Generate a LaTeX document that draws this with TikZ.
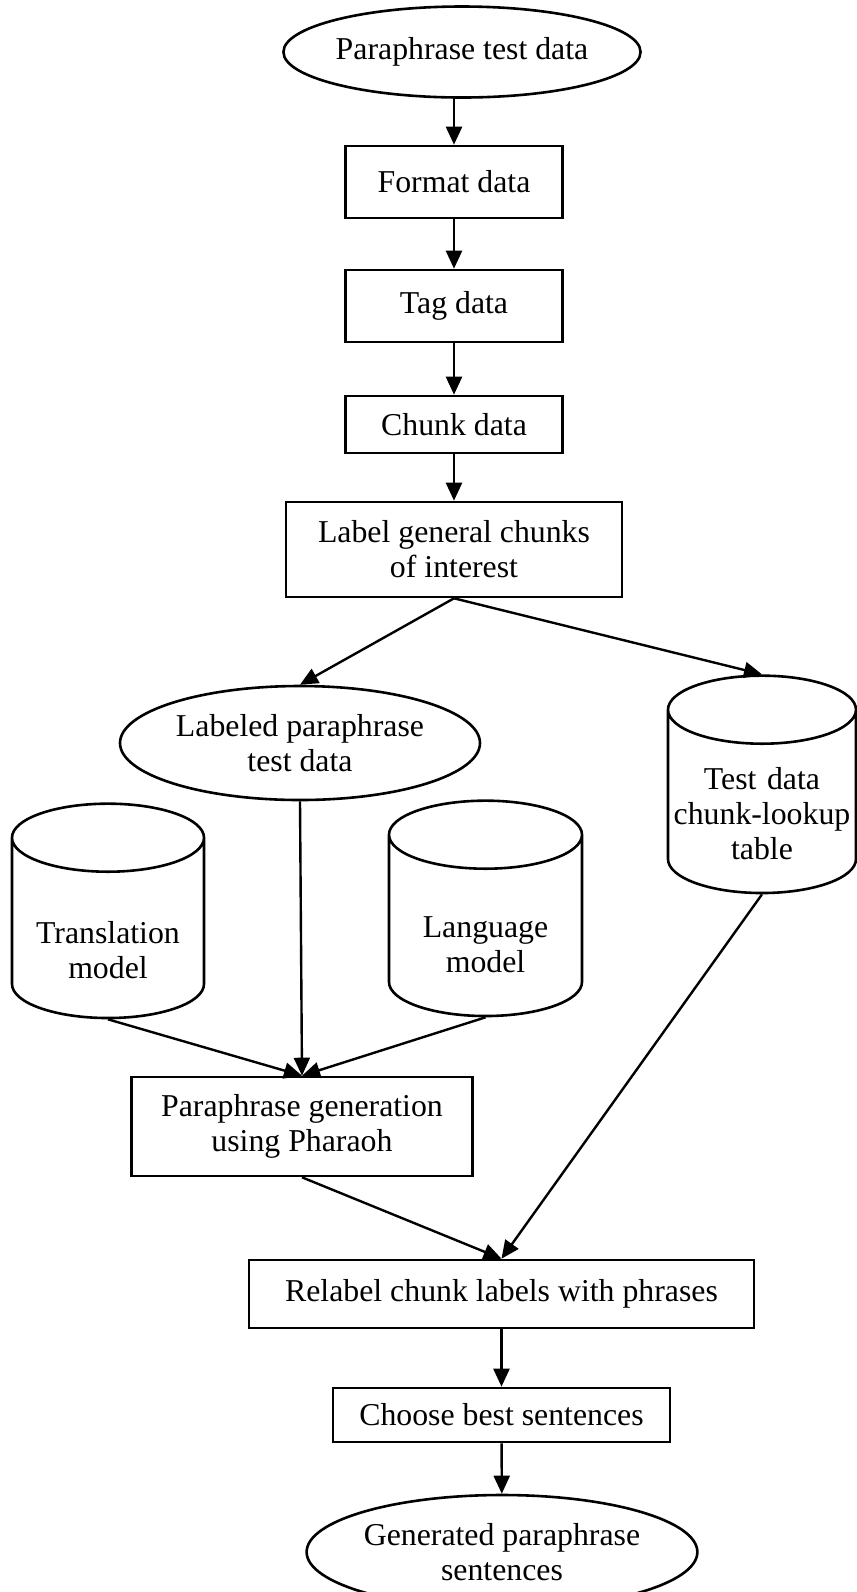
\documentclass[tikz,border=0pt]{standalone}
\usepackage{fontspec}
\setmainfont{Liberation Serif}
\usetikzlibrary{arrows.meta, shapes.geometric}

\tikzset{
  base/.style={draw, line width=1.3pt, align=center, inner sep=0pt,
               font=\fontsize{15.9}{17.5}\selectfont},
  procbox/.style={base, rectangle},
  datafile/.style={base, ellipse},
  store/.style={base, cylinder, shape border rotate=90, aspect=0.378,
                text width=90pt, minimum width=95pt},
  flow/.style={-{Triangle[length=9pt,width=8pt]}, line width=1.2pt},
}

\begin{document}
\begin{tikzpicture}[x=0.5pt, y=-0.5pt]
  \useasboundingbox (0,0) rectangle (857,1592);

  %--- main chain ---
  \node[datafile, minimum width=171pt, minimum height=45.5pt] (src) at (462,52)
    {Paraphrase test data};
  \node[procbox, minimum width=108.5pt, minimum height=36pt] (fmt) at (454,182)
    {Format data};
  \node[procbox, minimum width=108.5pt, minimum height=36pt] (tag) at (454,306)
    {Tag data};
  \node[procbox, minimum width=108.5pt, minimum height=28.5pt] (chk) at (454,424.5)
    {Chunk data};
  \node[procbox, minimum width=168pt, minimum height=47.5pt] (lbl) at (454,549.5)
    {Label general chunks\\of interest};

  %--- labeled data and stores ---
  \node[datafile, minimum width=180pt, minimum height=57pt] (lpd) at (300,743)
    {Labeled paraphrase\\test data};
  \node[store, minimum width=94pt, text height=22pt, text depth=35pt] (tdc)
    at (762,802) {Test data\\chunk-lookup\\table};
  \node[store, minimum width=96pt, text height=35pt, text depth=20.5pt] (tlm)
    at (108,928.5) {Translation\\model};
  \node[store, minimum width=96.5pt, text height=33.5pt, text depth=22.5pt] (lm)
    at (485.5,926) {Language\\model};

  %--- generation and output ---
  \node[procbox, minimum width=170.5pt, minimum height=49.5pt] (pg) at (302,1126.5)
    {Paraphrase generation\\using Pharaoh};
  \node[procbox, minimum width=252.5pt, minimum height=34pt] (rel) at (501.5,1294)
    {Relabel chunk labels with phrases};
  \node[procbox, minimum width=168.5pt, minimum height=27pt] (best) at (501.5,1415)
    {Choose best sentences};
  \node[datafile, minimum width=180pt, minimum height=57pt] (gen) at (502,1552)
    {Generated paraphrase\\sentences};

  %--- connectors ---
  \draw[flow] (fmt.north |- src.south) -- (fmt.north);
  \draw[flow] (fmt) -- (tag);
  \draw[flow] (tag) -- (chk);
  \draw[flow] (chk) -- (lbl);
  \draw[flow] (lbl.south) -- (lpd.north);
  \draw[flow] (lbl.south) -- (tdc.north);
  \draw[flow] (lpd.south) -- (pg.north);
  \draw[flow] (tlm.south) -- (pg.north);
  \draw[flow] (lm.south) -- (pg.north);
  \draw[flow] (pg.south) -- (rel.north);
  \draw[flow] (tdc.south) -- (rel.north);
  \draw[flow] (rel) -- (best);
  \draw[flow] (best) -- (gen);
\end{tikzpicture}
\end{document}
